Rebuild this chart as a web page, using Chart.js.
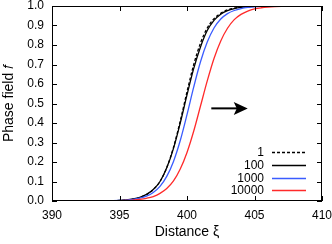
<!DOCTYPE html>
<html><head><meta charset="utf-8">
<script src="https://cdn.jsdelivr.net/npm/chart.js@4"></script>
<style>html,body{margin:0;padding:0;background:#fff}#wrap{width:332px;height:244px}</style>
</head><body><div id="wrap"><canvas id="c" width="332" height="244"></canvas></div>
<script>
const xs = [390,391,392,393,394,394.5,395,395.5,396,396.5,397,397.5,398,398.5,399,399.5,400,400.5,401,401.5,402,402.5,403,403.5,404,404.5,405,405.5,406,406.5,407,408,409,410];
const s1 = [0,0.00003,0.00008,0.00026,0.0009,0.0016,0.003,0.0054,0.0099,0.018,0.033,0.058,0.10,0.171,0.275,0.41,0.56,0.70,0.81,0.887,0.935,0.963,0.980,0.989,0.9939,0.9967,0.9982,0.999,0.9995,0.9997,0.9998,1,1,1];
const s100 = [0,0.00003,0.0001,0.0003,0.001,0.0018,0.0033,0.0059,0.0108,0.019,0.034,0.059,0.10,0.17,0.27,0.40,0.544,0.68,0.79,0.874,0.926,0.958,0.976,0.9866,0.9925,0.9958,0.9977,0.9987,0.9993,0.9996,0.9998,1,1,1];
const s1000 = [0.00001,0.00003,0.00009,0.00027,0.0008,0.0015,0.0026,0.0046,0.0082,0.0143,0.025,0.044,0.075,0.126,0.203,0.31,0.443,0.585,0.714,0.815,0.887,0.933,0.961,0.977,0.987,0.9927,0.9959,0.9977,0.9987,0.9992,0.9996,0.9999,1,1];
const s10000 = [0,0.00002,0.00007,0.0002,0.0006,0.001,0.0017,0.0029,0.0049,0.0083,0.014,0.023,0.039,0.064,0.103,0.164,0.249,0.359,0.487,0.616,0.731,0.821,0.886,0.930,0.957,0.974,0.985,0.991,0.9946,0.9968,0.9981,0.9993,0.9998,0.9999];
const seriesLabels = ['1','100','1000','10000'];
const xTicks = [390,395,400,405,410];
const yTicks = [0,0.1,0.2,0.3,0.4,0.5,0.6,0.7,0.8,0.9,1.0];
const arrowFrom = [401.8,0.475];
const arrowTo = [404.5,0.475];

const colors = ['#000000','#000000','#3a5cff','#ff2a2a'];
const dashes = [[3,2],[],[],[]];
const allSeries = [s1,s100,s1000,s10000];
const FONT = "'Liberation Sans', Arial, sans-serif";

const datasets = allSeries.map((s,i)=>({
  label: seriesLabels[i],
  data: xs.map((x,j)=>({x:x,y:s[j]})),
  borderColor: colors[i],
  borderWidth: 1.3,
  borderDash: dashes[i],
  pointRadius: 0,
  cubicInterpolationMode: 'monotone',
  fill: false,
  order: 4-i
}));

const framePlugin = {
  id:'frame',
  afterDatasetsDraw(chart){
    const {ctx, chartArea:a, scales:{x,y}} = chart;
    ctx.save();
    ctx.strokeStyle='#000'; ctx.lineWidth=1;
    ctx.strokeRect(Math.round(a.left)+0.5, Math.round(a.top)+0.5, Math.round(a.right-a.left)-1, Math.round(a.bottom-a.top)-1);
    const L=5;
    ctx.beginPath();
    yTicks.forEach(v=>{
      const py=Math.round(y.getPixelForValue(v))+0.5;
      ctx.moveTo(a.left, py); ctx.lineTo(a.left+L, py);
      ctx.moveTo(a.right, py); ctx.lineTo(a.right-L, py);
    });
    xTicks.forEach(v=>{
      const px=Math.round(x.getPixelForValue(v))+0.5;
      ctx.moveTo(px, a.bottom); ctx.lineTo(px, a.bottom-L);
      ctx.moveTo(px, a.top); ctx.lineTo(px, a.top+L);
    });
    ctx.stroke();
    // arrow
    const x0=x.getPixelForValue(arrowFrom[0]), y0=y.getPixelForValue(arrowFrom[1]);
    const x1=x.getPixelForValue(arrowTo[0]), y1=y.getPixelForValue(arrowTo[1]);
    ctx.lineWidth=2;
    ctx.beginPath(); ctx.moveTo(x0,y0); ctx.lineTo(x1-8,y1); ctx.stroke();
    ctx.fillStyle='#000';
    ctx.beginPath(); ctx.moveTo(x1,y1); ctx.lineTo(x1-14,y1-6.5); ctx.lineTo(x1-11,y1); ctx.lineTo(x1-14,y1+6.5); ctx.closePath(); ctx.fill();
    // legend
    ctx.font = '12px '+FONT;
    ctx.textAlign='right'; ctx.textBaseline='middle';
    const rowY=[152.3,165.3,178,190.3];
    const textRight = a.right-58, lx0=a.right-50, lx1=a.right-16;
    seriesLabels.forEach((lab,i)=>{
      ctx.fillStyle='#000';
      ctx.fillText(lab, textRight, rowY[i]+0.5);
      ctx.strokeStyle=colors[i]; ctx.lineWidth=1.3; ctx.setLineDash(dashes[i]);
      ctx.beginPath(); ctx.moveTo(lx0, Math.round(rowY[i])+0.5); ctx.lineTo(lx1, Math.round(rowY[i])+0.5); ctx.stroke();
      ctx.setLineDash([]);
    });
    ctx.restore();
  }
};

new Chart(document.getElementById('c'), {
  type:'line',
  data:{datasets},
  options:{
    responsive:false, animation:false, devicePixelRatio:1,
    layout:{padding:{left:0,right:10,top:6,bottom:0}},
    plugins:{legend:{display:false}, tooltip:{enabled:false}},
    scales:{
      x:{type:'linear', min:390, max:410,
        afterBuildTicks(s){ s.ticks = xTicks.map(v=>({value:v})); },
        afterFit(s){ s.height=43; s.paddingLeft=0; s.paddingRight=0; },
        grid:{display:false, drawTicks:false}, border:{display:false},
        ticks:{padding:7, color:'#000', font:{family:FONT,size:12}, maxRotation:0, callback:v=>String(v)},
        title:{display:true, text:'Distance ξ', color:'#000', font:{family:FONT,size:14}, padding:{top:2,bottom:3}}
      },
      y:{type:'linear', min:0, max:1,
        afterBuildTicks(s){ s.ticks = yTicks.map(v=>({value:v})); },
        afterFit(s){ s.width=52; s.paddingTop=0; s.paddingBottom=0; },
        grid:{display:false, drawTicks:false}, border:{display:false},
        ticks:{padding:8, color:'#000', font:{family:FONT,size:12}, callback:v=>v.toFixed(1)},
        title:{display:true, text:'Phase field 𝑓', color:'#000', font:{family:FONT,size:14}, padding:{top:1,bottom:2}}
      }
    }
  },
  plugins:[framePlugin]
});
</script></body></html>
